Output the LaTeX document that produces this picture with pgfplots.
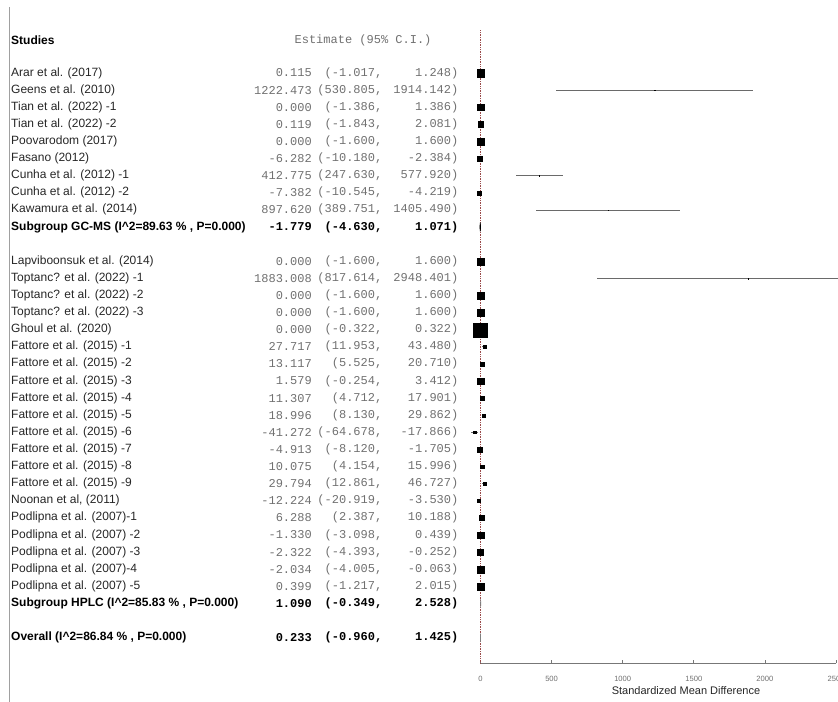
\documentclass[border=0pt]{standalone}
\usepackage{pgfplots}
\pgfplotsset{compat=1.18}
\usepackage{pgfplotstable}
\usepackage{fontspec}
\setmainfont{Liberation Sans}
\newfontfamily\monofont{Liberation Mono}

\definecolor{nametext}{HTML}{262626}
\definecolor{numtext}{HTML}{707070}
\definecolor{ciline}{HTML}{6A6A6A}
\definecolor{nullline}{HTML}{9A4A4A}
\definecolor{panelframe}{HTML}{A0A0A0}
\definecolor{axisgray}{HTML}{777777}

% individual studies: row position, estimate, 95% CI, marker half-size (weight)
\pgfplotstableread[col sep=semicolon]{
y;est;lo;hi;ms;name
-1;0.115;-1.017;1.248;3.6;Arar et al. (2017)
-2;1222.473;530.805;1914.142;0.25;Geens et al. (2010)
-3;0.000;-1.386;1.386;3.3;Tian et al. (2022) -1
-4;0.119;-1.843;2.081;2.8;Tian et al. (2022) -2
-5;0.000;-1.600;1.600;3.2;Poovarodom (2017)
-6;-6.282;-10.180;-2.384;2.2;Fasano (2012)
-7;412.775;247.630;577.920;0.25;Cunha et al. (2012) -1
-8;-7.382;-10.545;-4.219;2.1;Cunha  et al. (2012) -2
-9;897.620;389.751;1405.490;0.25;Kawamura et al. (2014)
-12;0.000;-1.600;1.600;3.4;Lapviboonsuk et al. (2014)
-13;1883.008;817.614;2948.401;0.25;Toptanc? et al. (2022) -1
-14;0.000;-1.600;1.600;3.2;Toptanc? et al. (2022) -2
-15;0.000;-1.600;1.600;3.2;Toptanc? et al. (2022) -3
-16;0.000;-0.322;0.322;7.0;Ghoul et al. (2020)
-17;27.717;11.953;43.480;1.4;Fattore et al. (2015) -1
-18;13.117;5.525;20.710;2.0;Fattore et al. (2015) -2
-19;1.579;-0.254;3.412;3.4;Fattore et al. (2015) -3
-20;11.307;4.712;17.901;1.6;Fattore et al. (2015) -4
-21;18.996;8.130;29.862;1.6;Fattore et al. (2015) -5
-22;-41.272;-64.678;-17.866;1.2;Fattore et al. (2015) -6
-23;-4.913;-8.120;-1.705;2.6;Fattore et al. (2015) -7
-24;10.075;4.154;15.996;1.9;Fattore et al. (2015) -8
-25;29.794;12.861;46.727;1.3;Fattore et al. (2015) -9
-26;-12.224;-20.919;-3.530;1.6;Noonan et al, (2011)
-27;6.288;2.387;10.188;2.6;Podlipna et al. (2007)-1
-28;-1.330;-3.098;0.439;3.4;Podlipna et al. (2007) -2
-29;-2.322;-4.393;-0.252;3.3;Podlipna et al. (2007) -3
-30;-2.034;-4.005;-0.063;3.4;Podlipna et al. (2007)-4
-31;0.399;-1.217;2.015;3.6;Podlipna et al. (2007) -5
}\studies

% pooled estimates: GC-MS subgroup, HPLC subgroup, overall
\pgfplotstableread[col sep=semicolon]{
y;est;lo;hi
-10;-1.779;-4.630;1.071
-32;1.090;-0.349;2.528
-34;0.233;-0.960;1.425
}\summary

\tikzset{
  namefont/.style={font=\fontsize{12bp}{14bp}\selectfont, text=nametext},
  numfont/.style={font=\fontsize{12bp}{14bp}\selectfont\monofont, text=numtext},
  boldnumfont/.style={font=\fontsize{12bp}{14bp}\selectfont\monofont\bfseries, text=black},
  boldname/.style={anchor=west, inner sep=0pt, font=\fontsize{12bp}{14bp}\selectfont\bfseries, text=black},
}
\pgfplotsset{
  textcol/.style n args={3}{draw=none, mark=none, point meta=explicit symbolic,
    nodes near coords={#2},
    every node near coord/.append style={anchor=#1, inner sep=0pt, #3}},
}

\begin{document}
\begin{tikzpicture}
\useasboundingbox (0,0) rectangle (838bp,702bp);
% panel border on the left
\draw[panelframe, line width=1.5bp] (9.5bp,695bp) -- (9.5bp,0);
\begin{axis}[
  at={(480.5bp,38.7bp)}, anchor=south west,
  scale only axis, width=355.5bp, height=633.1bp,
  xmin=0, xmax=2500, ymin=-35.5, ymax=1.5,
  clip=false,
  axis x line*=bottom, axis y line=none,
  x axis line style={draw=axisgray, line width=0.8bp},
  xtick={0,500,1000,1500,2000,2500}, ytick=\empty,
  tick align=inside, major tick length=3bp,
  xtick style={draw=axisgray, line width=0.7bp},
  /pgf/number format/assume math mode=true,
  /pgf/number format/1000 sep={},
  xticklabel style={font=\fontsize{7.6bp}{9bp}\selectfont, text=numtext,
    anchor=center, yshift=-15.7bp},
  xlabel={Standardized Mean Difference},
  xlabel style={font=\fontsize{11bp}{13bp}\selectfont, text=nametext,
    at={(axis description cs:0.578,0)}, anchor=center, yshift=-27.7bp},
]

% line of no effect
\addplot[nullline, densely dotted, line width=0.7bp] coordinates {(0,1.5) (0,-35.5)};

% confidence intervals
\addplot[draw=none, mark=none,
  error bars/.cd, x dir=both, x explicit, error mark=none,
  error bar style={ciline, line width=0.7bp, solid}]
  table[x=est, y=y,
    x error plus expr=\thisrow{hi}-\thisrow{est},
    x error minus expr=\thisrow{est}-\thisrow{lo}] {\studies};

% study weights as square markers
\addplot[scatter, only marks, mark=square*,
  scatter/use mapped color={draw=black, fill=black},
  mark options={line width=0.1bp},
  visualization depends on={\thisrow{ms} \as \msz},
  scatter/@pre marker code/.append style={/tikz/mark size=\msz}]
  table[x=est, y=y] {\studies};

% pooled diamonds
\addplot[fill=black, draw=black, line width=0.6bp]
  coordinates {(-4.630,-10) (-1.779,-9.75) (1.071,-10) (-1.779,-10.25) (-4.630,-10)};
\addplot[fill=gray, draw=gray, line width=0.5bp]
  coordinates {(-0.349,-32) (1.090,-31.75) (2.528,-32) (1.090,-32.25) (-0.349,-32)};
\addplot[fill=gray, draw=gray, line width=0.5bp]
  coordinates {(-0.960,-34) (0.233,-33.75) (1.425,-34) (0.233,-34.25) (-0.960,-34)};

% text columns for the studies
\addplot[textcol={west}{\pgfplotspointmeta}{namefont}]
  table[x expr=-3301.6, y=y, meta=name] {\studies};
\addplot[textcol={east}{\pgfplotspointmeta}{numfont}]
  table[x expr=-1185, y=y, meta=est] {\studies};
\addplot[textcol={east}{(\pgfplotspointmeta,}{numfont}]
  table[x expr=-689.2, y=y, meta=lo] {\studies};
\addplot[textcol={east}{\pgfplotspointmeta)}{numfont}]
  table[x expr=-154.7, y=y, meta=hi] {\studies};

% text columns for the pooled rows
\addplot[textcol={east}{\pgfplotspointmeta}{boldnumfont}]
  table[x expr=-1185, y=y, meta=est] {\summary};
\addplot[textcol={east}{(\pgfplotspointmeta,}{boldnumfont}]
  table[x expr=-689.2, y=y, meta=lo] {\summary};
\addplot[textcol={east}{\pgfplotspointmeta)}{boldnumfont}]
  table[x expr=-154.7, y=y, meta=hi] {\summary};

% headings and pooled row names
\node[boldname] at (axis cs:-3301.6,0.93) {Studies};
\node[anchor=center, inner sep=0pt, numfont] at (axis cs:-826,0.93) {Estimate (95\% C.I.)};
\node[boldname] at (axis cs:-3301.6,-10) {Subgroup GC-MS (I\textasciicircum2=89.63 \% , P=0.000)};
\node[boldname] at (axis cs:-3301.6,-32) {Subgroup HPLC (I\textasciicircum2=85.83 \% , P=0.000)};
\node[boldname] at (axis cs:-3301.6,-34) {Overall (I\textasciicircum2=86.84 \% , P=0.000)};
\end{axis}
\end{tikzpicture}
\end{document}
